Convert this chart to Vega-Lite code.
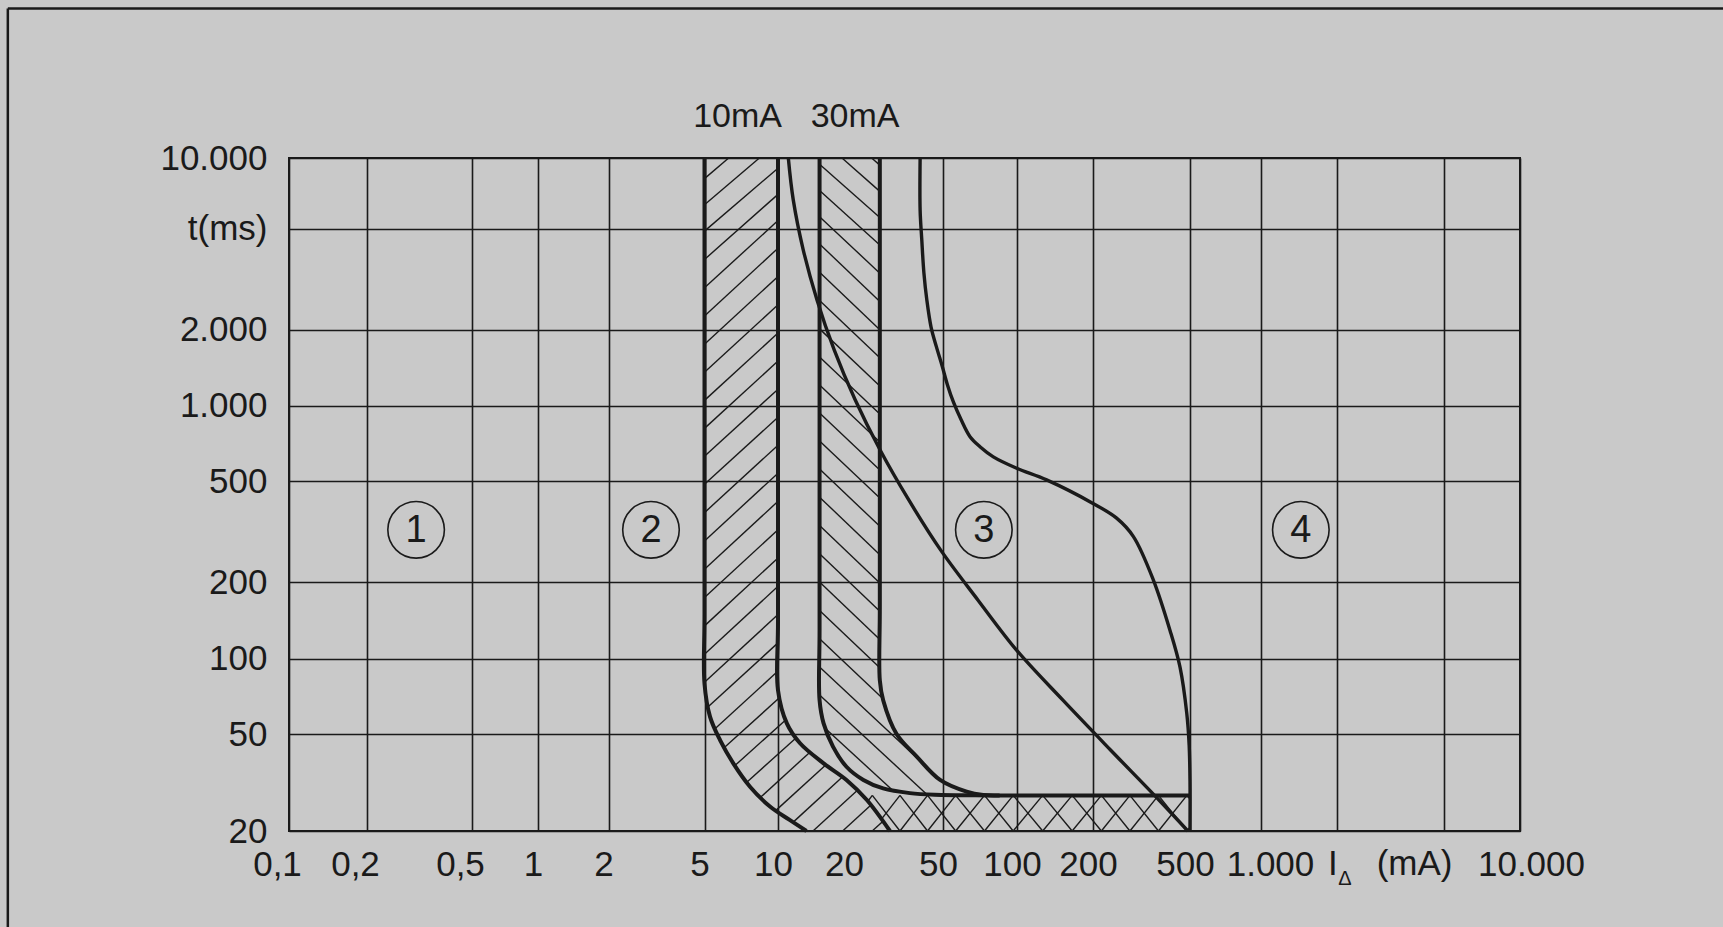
{
  "$schema": "https://vega.github.io/schema/vega-lite/v6.json",
  "width": 1231,
  "height": 673,
  "autosize": {"type": "none"},
  "padding": {"left": 289, "top": 158, "right": 203, "bottom": 96},
  "background": "#c9c9c9",
  "config": {
    "view": {"stroke": "#1a1a1a", "strokeWidth": 2},
    "font": "Liberation Sans",
    "text": {"font": "Liberation Sans", "color": "#1a1a1a"}
  },
  "datasets": {
    "curves": [
      {"curve": "A", "i": 0, "x": 5, "t": 10000},
      {"curve": "A", "i": 1, "x": 5, "t": 150},
      {"curve": "A", "i": 2, "x": 5, "t": 79.4},
      {"curve": "A", "i": 3, "x": 5.27, "t": 58.5},
      {"curve": "A", "i": 4, "x": 5.79, "t": 47.2},
      {"curve": "A", "i": 5, "x": 6.56, "t": 37.9},
      {"curve": "A", "i": 6, "x": 7.68, "t": 30.4},
      {"curve": "A", "i": 7, "x": 9.27, "t": 25.2},
      {"curve": "A", "i": 8, "x": 11.2, "t": 22.2},
      {"curve": "A", "i": 9, "x": 13.2, "t": 20},
      {"curve": "B", "i": 0, "x": 10, "t": 10000},
      {"curve": "B", "i": 1, "x": 10, "t": 140},
      {"curve": "B", "i": 2, "x": 10, "t": 74.7},
      {"curve": "B", "i": 3, "x": 10.9, "t": 55.1},
      {"curve": "B", "i": 4, "x": 12.4, "t": 45.8},
      {"curve": "B", "i": 5, "x": 15.6, "t": 37.9},
      {"curve": "B", "i": 6, "x": 19.5, "t": 32.4},
      {"curve": "B", "i": 7, "x": 23.8, "t": 26.8},
      {"curve": "B", "i": 8, "x": 29.8, "t": 20},
      {"curve": "C", "i": 0, "x": 15, "t": 10000},
      {"curve": "C", "i": 1, "x": 15, "t": 130},
      {"curve": "C", "i": 2, "x": 15, "t": 68.2},
      {"curve": "C", "i": 3, "x": 15.6, "t": 55.1},
      {"curve": "C", "i": 4, "x": 17.1, "t": 44.4},
      {"curve": "C", "i": 5, "x": 19.5, "t": 36.7},
      {"curve": "C", "i": 6, "x": 23, "t": 32.4},
      {"curve": "C", "i": 7, "x": 27.9, "t": 29.9},
      {"curve": "C", "i": 8, "x": 36.2, "t": 28.6},
      {"curve": "C", "i": 9, "x": 46, "t": 28.15},
      {"curve": "C", "i": 10, "x": 80, "t": 28},
      {"curve": "C", "i": 11, "x": 500, "t": 28},
      {"curve": "D", "i": 0, "x": 27, "t": 10000},
      {"curve": "D", "i": 1, "x": 27, "t": 160},
      {"curve": "D", "i": 2, "x": 27, "t": 81.8},
      {"curve": "D", "i": 3, "x": 27.9, "t": 68.2},
      {"curve": "D", "i": 4, "x": 31.8, "t": 50},
      {"curve": "D", "i": 5, "x": 38.7, "t": 40.4},
      {"curve": "D", "i": 6, "x": 48.6, "t": 32.4},
      {"curve": "D", "i": 7, "x": 62.4, "t": 29},
      {"curve": "D", "i": 8, "x": 72.9, "t": 28.1},
      {"curve": "D", "i": 9, "x": 85, "t": 28},
      {"curve": "E", "i": 0, "x": 11.06, "t": 10000},
      {"curve": "E", "i": 1, "x": 11.6, "t": 6650},
      {"curve": "E", "i": 2, "x": 12.79, "t": 4130},
      {"curve": "E", "i": 3, "x": 14.63, "t": 2621},
      {"curve": "E", "i": 4, "x": 17.3, "t": 1663},
      {"curve": "E", "i": 5, "x": 21.2, "t": 1056},
      {"curve": "E", "i": 6, "x": 27.04, "t": 666},
      {"curve": "E", "i": 7, "x": 35.8, "t": 421},
      {"curve": "E", "i": 8, "x": 48.9, "t": 267},
      {"curve": "E", "i": 9, "x": 69.3, "t": 170},
      {"curve": "E", "i": 10, "x": 99.8, "t": 107.6},
      {"curve": "E", "i": 11, "x": 152, "t": 68.2},
      {"curve": "E", "i": 12, "x": 236, "t": 43},
      {"curve": "E", "i": 13, "x": 373, "t": 26.8},
      {"curve": "E", "i": 14, "x": 490, "t": 20},
      {"curve": "F", "i": 0, "x": 40, "t": 10000},
      {"curve": "F", "i": 1, "x": 40, "t": 6000},
      {"curve": "F", "i": 2, "x": 40.65, "t": 4525},
      {"curve": "F", "i": 3, "x": 41.5, "t": 3351},
      {"curve": "F", "i": 4, "x": 42.7, "t": 2621},
      {"curve": "F", "i": 5, "x": 44.5, "t": 2049},
      {"curve": "F", "i": 6, "x": 46.9, "t": 1709},
      {"curve": "F", "i": 7, "x": 49.7, "t": 1425},
      {"curve": "F", "i": 8, "x": 52.1, "t": 1210},
      {"curve": "F", "i": 9, "x": 55.2, "t": 1028},
      {"curve": "F", "i": 10, "x": 59.2, "t": 879},
      {"curve": "F", "i": 11, "x": 64.4, "t": 751},
      {"curve": "F", "i": 12, "x": 70.7, "t": 685},
      {"curve": "F", "i": 13, "x": 80.1, "t": 624},
      {"curve": "F", "i": 14, "x": 99.7, "t": 562},
      {"curve": "F", "i": 15, "x": 131, "t": 505},
      {"curve": "F", "i": 16, "x": 200, "t": 408},
      {"curve": "F", "i": 17, "x": 250, "t": 357},
      {"curve": "F", "i": 18, "x": 293, "t": 302},
      {"curve": "F", "i": 19, "x": 353.5, "t": 204},
      {"curve": "F", "i": 20, "x": 414, "t": 129},
      {"curve": "F", "i": 21, "x": 455, "t": 92.4},
      {"curve": "F", "i": 22, "x": 485, "t": 60.4},
      {"curve": "F", "i": 23, "x": 496, "t": 45},
      {"curve": "F", "i": 24, "x": 500, "t": 32},
      {"curve": "F", "i": 25, "x": 500, "t": 20}
    ],
    "hatch": [
      {"x": 5, "t": 8170, "x2": 6.28, "t2": 10000},
      {"x": 5, "t": 6320, "x2": 8.39, "t2": 10000},
      {"x": 5, "t": 4890, "x2": 10, "t2": 9050},
      {"x": 5, "t": 3782, "x2": 10, "t2": 7000},
      {"x": 5, "t": 2926, "x2": 10, "t2": 5416},
      {"x": 5, "t": 2263, "x2": 10, "t2": 4190},
      {"x": 5, "t": 1751, "x2": 10, "t2": 3241},
      {"x": 5, "t": 1354, "x2": 10, "t2": 2507},
      {"x": 5, "t": 1048, "x2": 10, "t2": 1940},
      {"x": 5, "t": 810.5, "x2": 10, "t2": 1501},
      {"x": 5, "t": 627, "x2": 10, "t2": 1161},
      {"x": 5, "t": 485, "x2": 10, "t2": 898},
      {"x": 5, "t": 375.3, "x2": 10, "t2": 694.7},
      {"x": 5, "t": 290.3, "x2": 10, "t2": 537.4},
      {"x": 5, "t": 224.5, "x2": 10, "t2": 415.7},
      {"x": 5, "t": 173.7, "x2": 10, "t2": 321.6},
      {"x": 5, "t": 134.4, "x2": 10, "t2": 248.8},
      {"x": 5, "t": 103.9, "x2": 10, "t2": 192.4},
      {"x": 5, "t": 80.4, "x2": 10, "t2": 148.9},
      {"x": 5.19, "t": 64.3, "x2": 10, "t2": 115.2},
      {"x": 5.52, "t": 52.5, "x2": 10, "t2": 89.1},
      {"x": 6.03, "t": 44.0, "x2": 10.19, "t2": 70.0},
      {"x": 6.66, "t": 37.1, "x2": 10.8, "t2": 57.0},
      {"x": 7.45, "t": 31.7, "x2": 11.95, "t2": 48.3},
      {"x": 8.48, "t": 27.5, "x2": 13.69, "t2": 42.2},
      {"x": 9.81, "t": 24.3, "x2": 15.93, "t2": 37.3},
      {"x": 11.57, "t": 21.7, "x2": 18.73, "t2": 33.3},
      {"x": 14.07, "t": 20, "x2": 21.65, "t2": 29.3},
      {"x": 18.79, "t": 20, "x2": 24.7, "t2": 25.5},
      {"x": 25.07, "t": 20, "x2": 27.77, "t2": 21.9},
      {"x": 24.93, "t": 10000, "x2": 27, "t2": 9325},
      {"x": 18.67, "t": 10000, "x2": 27, "t2": 7211},
      {"x": 15, "t": 9400, "x2": 27, "t2": 5579},
      {"x": 15, "t": 7272, "x2": 27, "t2": 4316},
      {"x": 15, "t": 5626, "x2": 27, "t2": 3339},
      {"x": 15, "t": 4352, "x2": 27, "t2": 2583},
      {"x": 15, "t": 3367, "x2": 27, "t2": 1998},
      {"x": 15, "t": 2604, "x2": 27, "t2": 1546},
      {"x": 15, "t": 2015, "x2": 27, "t2": 1195},
      {"x": 15, "t": 1559, "x2": 27, "t2": 925},
      {"x": 15, "t": 1206, "x2": 27, "t2": 715.4},
      {"x": 15, "t": 932.6, "x2": 27, "t2": 553.6},
      {"x": 15, "t": 721.4, "x2": 27, "t2": 428.2},
      {"x": 15, "t": 558, "x2": 27, "t2": 331.4},
      {"x": 15, "t": 431.8, "x2": 27, "t2": 256.3},
      {"x": 15, "t": 334.1, "x2": 27, "t2": 198.3},
      {"x": 15, "t": 258.4, "x2": 27, "t2": 153.4},
      {"x": 15, "t": 199.9, "x2": 27, "t2": 118.7},
      {"x": 15, "t": 154.6, "x2": 27, "t2": 91.8},
      {"x": 15, "t": 119.6, "x2": 27.85, "t2": 69.1},
      {"x": 15, "t": 92.5, "x2": 46.2, "t2": 34.07},
      {"x": 15, "t": 71.6, "x2": 42.97, "t2": 28.09},
      {"x": 15.92, "t": 52.5, "x2": 30.5, "t2": 29.44},
      {"x": 25.1, "t": 28, "x2": 32.86, "t2": 20},
      {"x": 32.86, "t": 28, "x2": 43.0, "t2": 20},
      {"x": 43.0, "t": 28, "x2": 56.3, "t2": 20},
      {"x": 56.3, "t": 28, "x2": 73.75, "t2": 20},
      {"x": 73.75, "t": 28, "x2": 96.5, "t2": 20},
      {"x": 96.5, "t": 28, "x2": 126.4, "t2": 20},
      {"x": 126.4, "t": 28, "x2": 165.4, "t2": 20},
      {"x": 165.4, "t": 28, "x2": 216.5, "t2": 20},
      {"x": 216.5, "t": 28, "x2": 283.5, "t2": 20},
      {"x": 283.5, "t": 28, "x2": 371.2, "t2": 20},
      {"x": 371.2, "t": 28, "x2": 485.8, "t2": 20},
      {"x": 485.8, "t": 28, "x2": 500, "t2": 27.02},
      {"x": 23.88, "t": 26.31, "x2": 25.1, "t2": 28},
      {"x": 27.33, "t": 22.26, "x2": 32.86, "t2": 28},
      {"x": 32.86, "t": 20, "x2": 43.0, "t2": 28},
      {"x": 43.0, "t": 20, "x2": 56.3, "t2": 28},
      {"x": 56.3, "t": 20, "x2": 73.75, "t2": 28},
      {"x": 73.75, "t": 20, "x2": 96.5, "t2": 28},
      {"x": 96.5, "t": 20, "x2": 126.4, "t2": 28},
      {"x": 126.4, "t": 20, "x2": 165.4, "t2": 28},
      {"x": 165.4, "t": 20, "x2": 216.5, "t2": 28},
      {"x": 216.5, "t": 20, "x2": 283.5, "t2": 28},
      {"x": 283.5, "t": 20, "x2": 371.2, "t2": 28},
      {"x": 371.2, "t": 20, "x2": 485.8, "t2": 28},
      {"x": 485.8, "t": 20, "x2": 500, "t2": 20.73}
    ],
    "frame": [
      {"x": 0.00822, "t": 43340, "x2": 0.00822, "t2": 7.5},
      {"x": 0.00822, "t": 43340, "x2": 70000, "t2": 43340}
    ],
    "zones": [
      {"n": "1", "x": 0.307, "t": 321},
      {"n": "2", "x": 3.0, "t": 321},
      {"n": "3", "x": 73.3, "t": 321},
      {"n": "4", "x": 1438, "t": 321}
    ],
    "top": [
      {"s": "10mA", "x": 6.83, "t": 10000},
      {"s": "30mA", "x": 21.2, "t": 10000}
    ],
    "unit": [
      {"s": "I", "x": 1928, "t": 20},
      {"s": "(mA)", "x": 3885, "t": 20}
    ],
    "delta": [
      {"s": "Δ", "x": 2142, "t": 20}
    ]
  },
  "encoding": {
    "x": {
      "field": "x", "type": "quantitative",
      "scale": {
        "type": "log",
        "domain": [0.1, 0.2, 0.5, 1, 2, 5, 10, 50, 100, 200, 500, 1000, 2000, 5000, 10000],
        "range": [0, 78, 183, 249, 319.5, 415.5, 489, 654, 728, 804, 901, 972, 1048, 1155, 1231],
        "nice": false
      },
      "axis": {
        "title": null,
        "values": [0.1, 0.2, 0.5, 1, 2, 5, 10, 20, 50, 100, 200, 500, 1000, 2000, 5000, 10000],
        "labelExpr": "datum.value < 0.15 ? '0,1' : datum.value < 0.3 ? '0,2' : datum.value < 0.7 ? '0,5' : (datum.value == 2000 || datum.value == 5000) ? '' : datum.value == 1000 ? '1.000' : datum.value == 10000 ? '10.000' : '' + datum.value",
        "grid": true,
        "gridColor": "#1a1a1a",
        "gridWidth": 1.6,
        "gridOpacity": {"condition": {"test": "datum.value == 20", "value": 0}, "value": 1},
        "domain": false,
        "ticks": false,
        "tickSize": 0,
        "labelFont": "Liberation Sans",
        "labelFontSize": 35,
        "labelColor": "#1a1a1a",
        "labelPadding": 44,
        "labelBaseline": "alphabetic",
        "labelOffset": {"condition": [
          {"test": "datum.value < 0.7", "value": -12},
          {"test": "datum.value == 1000", "value": 9},
          {"test": "datum.value == 10000", "value": 11}
        ], "value": -5},
        "labelFlush": false,
        "labelOverlap": false,
        "labelBound": false
      }
    },
    "y": {
      "field": "t", "type": "quantitative",
      "scale": {
        "type": "log",
        "domain": [20, 50, 100, 200, 500, 1000, 2000, 5000, 10000],
        "range": [673, 576, 500.5, 424, 323, 247.5, 171.7, 70.7, 0],
        "nice": false
      },
      "axis": {
        "title": null,
        "values": [20, 50, 100, 200, 500, 1000, 2000, 5000, 10000],
        "labelExpr": "datum.value == 5000 ? 't(ms)' : datum.value == 10000 ? '10.000' : datum.value == 2000 ? '2.000' : datum.value == 1000 ? '1.000' : '' + datum.value",
        "grid": true,
        "gridColor": "#1a1a1a",
        "gridWidth": 1.6,
        "gridOpacity": 1,
        "domain": false,
        "ticks": false,
        "tickSize": 0,
        "labelFont": "Liberation Sans",
        "labelFontSize": 35,
        "labelColor": "#1a1a1a",
        "labelPadding": 22,
        "labelFlush": false,
        "labelOverlap": false,
        "labelBound": false
      }
    }
  },
  "layer": [
    {
      "data": {"name": "hatch"},
      "mark": {"type": "rule", "color": "#1a1a1a", "strokeWidth": 1.4},
      "encoding": {
        "x2": {"field": "x2"},
        "y2": {"field": "t2"}
      }
    },
    {
      "data": {"name": "curves"},
      "transform": [{"filter": {"field": "curve", "oneOf": ["A", "B", "C", "D"]}}],
      "mark": {"type": "line", "color": "#1a1a1a", "strokeWidth": 4, "interpolate": "catmull-rom"},
      "encoding": {
        "detail": {"field": "curve"},
        "order": {"field": "i", "type": "quantitative"}
      }
    },
    {
      "data": {"name": "curves"},
      "transform": [{"filter": {"field": "curve", "oneOf": ["E", "F"]}}],
      "mark": {"type": "line", "color": "#1a1a1a", "strokeWidth": 3.4, "interpolate": "catmull-rom"},
      "encoding": {
        "detail": {"field": "curve"},
        "order": {"field": "i", "type": "quantitative"}
      }
    },
    {
      "data": {"name": "zones"},
      "mark": {"type": "point", "shape": "circle", "filled": false, "size": 3200, "stroke": "#1a1a1a", "strokeWidth": 1.6, "opacity": 1}
    },
    {
      "data": {"name": "zones"},
      "mark": {"type": "text", "fontSize": 38, "align": "center", "baseline": "middle", "dy": 1, "color": "#1a1a1a"},
      "encoding": {"text": {"field": "n"}}
    },
    {
      "data": {"name": "top"},
      "mark": {"type": "text", "fontSize": 34, "align": "center", "baseline": "alphabetic", "dy": -31, "color": "#1a1a1a"},
      "encoding": {"text": {"field": "s"}}
    },
    {
      "data": {"name": "unit"},
      "mark": {"type": "text", "fontSize": 35, "align": "center", "baseline": "alphabetic", "dy": 44, "color": "#1a1a1a"},
      "encoding": {"text": {"field": "s"}}
    },
    {
      "data": {"name": "delta"},
      "mark": {"type": "text", "fontSize": 20, "align": "center", "baseline": "alphabetic", "dy": 54, "color": "#1a1a1a"},
      "encoding": {"text": {"field": "s"}}
    },
    {
      "data": {"name": "frame"},
      "mark": {"type": "rule", "clip": false, "color": "#1a1a1a", "strokeWidth": 2.5},
      "encoding": {
        "x2": {"field": "x2"},
        "y2": {"field": "t2"}
      }
    }
  ]
}
